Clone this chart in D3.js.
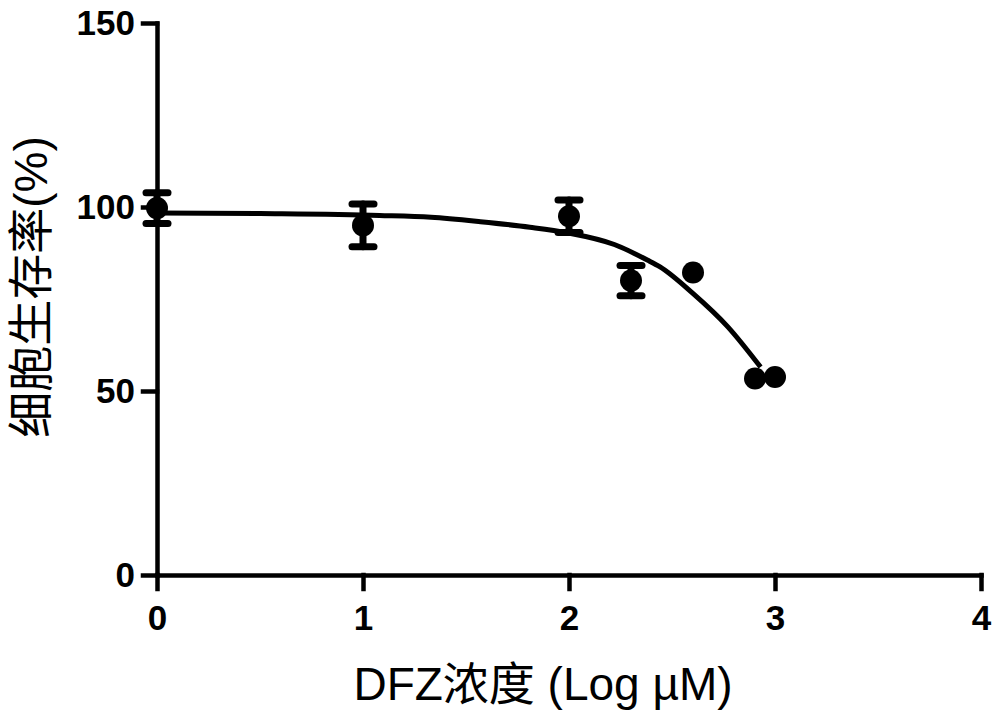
<!DOCTYPE html>
<html>
<head>
<meta charset="utf-8">
<script src="https://cdn.jsdelivr.net/npm/d3@7"></script>
<style>
  body { margin: 0; background: #fff; }
  svg { display: block; }
</style>
</head>
<body>
<svg id="chart"></svg>
<script>
// log10 of DFZ concentration (uM)
let logDose = [0, 1, 2, 2.301, 2.602, 2.903, 3]
let viability = [99.7, 95, 97.5, 80, 82.2, 53.4, 53.8]
let sem = [4.2, 5.8, 4.4, 4.1, 0, 0, 0]

// fitted curve
let fitX = [0, 0.5, 1.08, 1.33, 1.57, 1.81, 1.99, 2.22, 2.38, 2.44, 2.6, 2.77, 2.93]
let fitY = [98.4, 98.2, 97.7, 97.2, 96.0, 94.5, 93.0, 89.8, 85.6, 83.8, 76.6, 67.5, 56.5]

let xTicks = [0, 1, 2, 3, 4]
let yTicks = [0, 50, 100, 150]

let svgWidth = 1000
let svgHeight = 715

let svg = d3.select('#chart')
    .attr('width', svgWidth)
    .attr('height', svgHeight)

let x = d3.scaleLinear()
    .domain([0, 4])
    .range([157, 981])

let y = d3.scaleLinear()
    .domain([0, 150])
    .range([575, 23])

let xAxis = svg.append('g')
    .attr('transform', 'translate(0,' + y(0) + ')')
    .call(d3.axisBottom(x).tickValues(xTicks).tickFormat(d3.format('d'))
        .tickSize(14).tickSizeOuter(0).tickPadding(16))

let yAxis = svg.append('g')
    .attr('transform', 'translate(' + x(0) + ',0)')
    .call(d3.axisLeft(y).tickValues(yTicks).tickFormat(d3.format('d'))
        .tickSize(14).tickSizeOuter(0).tickPadding(8))

svg.selectAll('.domain, .tick line')
    .attr('stroke', '#000')
    .attr('stroke-width', 4.5)
    .attr('stroke-linecap', 'square')

svg.selectAll('.tick text')
    .attr('fill', '#000')
    .style('font-family', 'Liberation Sans, Arial, sans-serif')
    .style('font-size', '35px')
    .style('font-weight', 'bold')

// fitted line
let line = d3.line()
    .x(function(d) { return x(d[0]) })
    .y(function(d) { return y(d[1]) })
    .curve(d3.curveMonotoneX)

svg.append('path')
    .datum(d3.zip(fitX, fitY))
    .attr('d', line)
    .attr('fill', 'none')
    .attr('stroke', '#000')
    .attr('stroke-width', 5)

// error bars
let points = logDose.map(function(d, i) {
    return { x: d, y: viability[i], e: sem[i] }
})
let withErr = points.filter(function(d) { return d.e > 0 })

let bars = svg.selectAll('.err')
    .data(withErr)
    .enter()
    .append('g')
    .attr('class', 'err')
    .attr('stroke', '#000')
    .attr('stroke-width', 7)
    .attr('stroke-linecap', 'round')

bars.append('line')
    .attr('x1', function(d) { return x(d.x) })
    .attr('x2', function(d) { return x(d.x) })
    .attr('y1', function(d) { return y(d.y + d.e) })
    .attr('y2', function(d) { return y(d.y - d.e) })

bars.append('line')
    .attr('x1', function(d) { return x(d.x) - 11 })
    .attr('x2', function(d) { return x(d.x) + 11 })
    .attr('y1', function(d) { return y(d.y + d.e) })
    .attr('y2', function(d) { return y(d.y + d.e) })

bars.append('line')
    .attr('x1', function(d) { return x(d.x) - 11 })
    .attr('x2', function(d) { return x(d.x) + 11 })
    .attr('y1', function(d) { return y(d.y - d.e) })
    .attr('y2', function(d) { return y(d.y - d.e) })

svg.selectAll('.dot')
    .data(points)
    .enter()
    .append('circle')
    .attr('class', 'dot')
    .attr('cx', function(d) { return x(d.x) })
    .attr('cy', function(d) { return y(d.y) })
    .attr('r', 11)
    .attr('fill', '#000')

// axis titles
svg.append('text')
    .attr('x', 543)
    .attr('y', 700)
    .attr('text-anchor', 'middle')
    .attr('fill', '#000')
    .style('font-family', 'Liberation Sans, Arial, "Noto Sans CJK SC", sans-serif')
    .style('font-size', '46px')
    .text('DFZ浓度 (Log µM)')

svg.append('text')
    .attr('transform', 'translate(47,287) rotate(-90)')
    .attr('text-anchor', 'middle')
    .attr('fill', '#000')
    .style('font-family', 'Liberation Sans, Arial, "Noto Sans CJK SC", sans-serif')
    .style('font-size', '46px')
    .text('细胞生存率(%)')
</script>
</body>
</html>
